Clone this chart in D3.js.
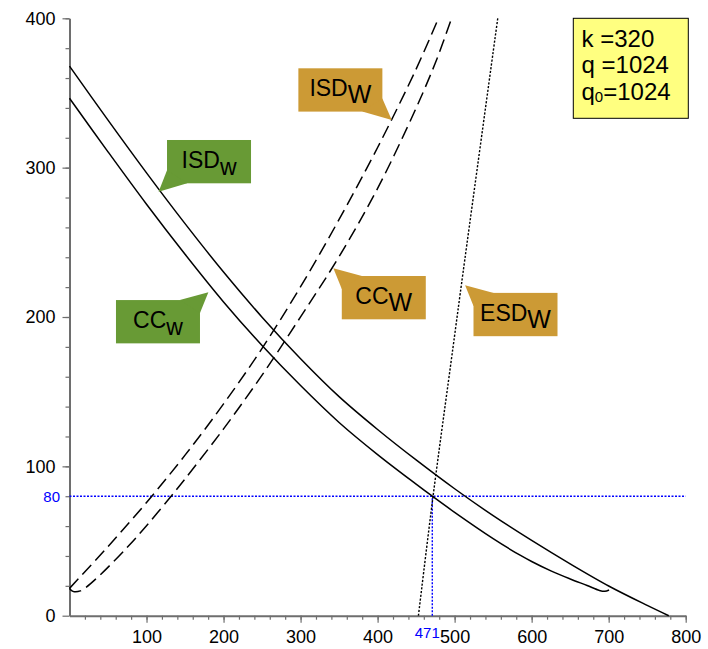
<!DOCTYPE html>
<html><head><meta charset="utf-8">
<script src="https://cdn.jsdelivr.net/npm/d3@7"></script>
<style>
body{margin:0;background:#fff;}
svg text{font-family:"Liberation Sans",Arial,sans-serif;}
</style></head>
<body><svg id="c" width="708" height="649"></svg>
<script>
// ---- data ----
const xTicks = [100,200,300,400,500,600,700,800];
const yTicks = [0,100,200,300,400];
const xMinor = d3.range(20,801,20);
const yMinor = d3.range(20,401,20);
// ISD_W (solid, upper)
const isdW = [[0,368],[50,331.8],[100,296.5],[150,262.5],[200,230.1],[250,199.9],[300,172.1],[350,146.7],[400,124.7],[450,104.3],[500,85],[550,67],[600,50.4],[650,34.7],[700,19.9],[750,6.9],[778,0]];
// CC_W (solid, lower)
const ccW = [[0,346.5],[50,310.6],[100,275.5],[150,242],[200,210.1],[250,180.9],[300,154.1],[350,129.4],[400,107.9],[450,88.1],[471,80],[500,69.2],[550,51.6],[585,40.5],[600,36.3],[625,30],[650,24.6],[672,20.2],[688,16.9],[695,16.3],[700.5,17.2]];
// ISD_W (dashed, left)
const isdWd = [[0,18.3],[50,46.3],[100,75.8],[150,107.5],[200,141.8],[250,179],[300,220.3],[350,265.3],[400,313.5],[450,366],[479,400]];
// CC_W (dashed, right)
const ccWd = [[0,18.3],[2,17.1],[4.5,16.3],[8,16],[14,16.6],[20,18.4],[40,27.4],[75,45.8],[100,60.2],[130,78.8],[150,91.6],[200,125.1],[250,161.1],[300,200.1],[350,240.4],[400,286.1],[450,339.9],[477,372.8],[496,400]];
// ESD_W (dotted)
const esdW = [[453,0],[472,80],[498,180],[511,230],[556,400]];
// equilibrium
const eqX = 471, eqY = 80;
// annotations: label, subscript, colour group, tip (data coords)
const notes = [
  {main:"ISD", sub:"w", kind:"green", tip:[115.7,283.9], side:"ru"},
  {main:"CC", sub:"w", kind:"green", tip:[180.3,216.5], side:"ld"},
  {main:"ISD", sub:"W", kind:"orange", tip:[418.4,331.9], side:"lu"},
  {main:"CC", sub:"W", kind:"orange", tip:[342.6,232.6], side:"rd"},
  {main:"ESD", sub:"W", kind:"orange", tip:[513.6,221.3], side:"rd"}
];
const params = [["k ","","=320"],["q ","","=1024"],["q","0","=1024"]];

// ---- drawing ----
const svg = d3.select("#c");
const x = d3.scaleLinear().domain([0,800]).range([69.5,685.7]);
const y = d3.scaleLinear().domain([0,400]).range([615.7,18.3]);
const axisCol = "#6e6e6e";
const FONT = "Liberation Sans, Arial, sans-serif";

// minor ticks
svg.append("g").attr("transform",`translate(0,${y(0)})`)
  .call(d3.axisBottom(x).tickValues(xMinor).tickSize(4).tickFormat(""))
  .call(g=>{g.select(".domain").remove();g.selectAll("line").attr("stroke",axisCol).attr("stroke-width",1.2);});
svg.append("g").attr("transform",`translate(${x(0)},0)`)
  .call(d3.axisLeft(y).tickValues(yMinor).tickSize(4).tickFormat(""))
  .call(g=>{g.select(".domain").remove();g.selectAll("line").attr("stroke",axisCol).attr("stroke-width",1.2);});
// major
svg.append("g").attr("transform",`translate(0,${y(0)})`)
  .call(d3.axisBottom(x).tickValues(xTicks).tickSize(7).tickSizeOuter(0).tickPadding(8).tickFormat(d3.format("d")))
  .call(g=>{g.select(".domain").attr("stroke",axisCol).attr("stroke-width",2);
    g.selectAll("line").attr("stroke",axisCol).attr("stroke-width",1.2);
    g.selectAll("text").attr("font-size",18).attr("fill","#000").attr("font-family",FONT);});
svg.append("g").attr("transform",`translate(${x(0)},0)`)
  .call(d3.axisLeft(y).tickValues(yTicks).tickSize(7).tickSizeOuter(0).tickPadding(7).tickFormat(d3.format("d")))
  .call(g=>{g.select(".domain").attr("stroke",axisCol).attr("stroke-width",2);
    g.selectAll("line").attr("stroke",axisCol).attr("stroke-width",1.2);
    g.selectAll("text").attr("font-size",18).attr("fill","#000").attr("font-family",FONT);});

// blue guide lines
svg.append("line").attr("x1",x(0)).attr("x2",x(800)).attr("y1",y(eqY)).attr("y2",y(eqY))
  .attr("stroke","#0000ff").attr("stroke-width",1.4).attr("stroke-dasharray","2,1.5");
svg.append("line").attr("x1",x(eqX)).attr("x2",x(eqX)).attr("y1",y(0)).attr("y2",y(eqY))
  .attr("stroke","#0000ff").attr("stroke-width",1.4).attr("stroke-dasharray","2,1.5");
svg.append("text").attr("x",x(0)-9.5).attr("y",y(eqY)+5.5).attr("text-anchor","end")
  .attr("font-size",15).attr("fill","#0000ff").text(eqY);
svg.append("text").attr("x",x(eqX)-5).attr("y",638).attr("text-anchor","middle")
  .attr("font-size",15).attr("fill","#0000ff").text(eqX);

// curves
const line = d3.line().x(d=>x(d[0])).y(d=>y(d[1])).curve(d3.curveCatmullRom.alpha(0.5));
function curve(data,dash,w){
  svg.append("path").datum(data).attr("d",line).attr("fill","none").attr("stroke","#000")
    .attr("stroke-width",w).attr("stroke-dasharray",dash);
}
curve(isdW,null,1.5);
curve(ccW,null,1.5);
curve(isdWd,"13,6",1.5);
curve(ccWd,"13,6",1.5);
curve(esdW,"2.2,1.6",1.4);

// callouts
const colors = {green:"#689a35", orange:"#cc9a35"};
const W = 84, H = 43.3, gap = 8.4, vgap = 7.7;
notes.forEach(n=>{
  const tx = x(n.tip[0]), ty = y(n.tip[1]);
  let bx, by, p1, p2;
  if(n.side==="ru"){ bx = tx+gap; by = ty-51.7;
    p1=[bx,by+0.7*H]; p2=[bx+0.24*W,by+H]; }
  else if(n.side==="ld"){ bx = tx-gap-W; by = ty+vgap;
    p1=[bx+0.76*W,by]; p2=[bx+W,by+0.3*H]; }
  else if(n.side==="lu"){ bx = tx-gap-1-W; by = ty-51.7;
    p1=[bx+0.76*W,by+H]; p2=[bx+W,by+0.7*H]; }
  else { bx = tx+gap; by = ty+vgap;
    p1=[bx,by+0.3*H]; p2=[bx+0.24*W,by]; }
  const g = svg.append("g");
  g.append("rect").attr("x",bx).attr("y",by).attr("width",W).attr("height",H).attr("fill",colors[n.kind]);
  g.append("path").attr("d",`M${p1}L${tx},${ty}L${p2}Z`).attr("fill",colors[n.kind]);
  const t = g.append("text").attr("x",bx+W/2).attr("y",by+28).attr("text-anchor","middle")
    .attr("font-size",23).attr("fill","#000");
  t.append("tspan").text(n.main);
  t.append("tspan").attr("dy",7).attr("font-size",n.kind==="orange"?25:23).text(n.sub);
});

// parameter box
const pb = svg.append("g");
pb.append("rect").attr("x",573.3).attr("y",18.3).attr("width",115).attr("height",100)
  .attr("fill","#ffff80").attr("stroke","#000").attr("stroke-width",1);
params.forEach((p,i)=>{
  const t = pb.append("text").attr("x",581.5).attr("y",46.5+i*26.7).attr("font-size",24).attr("fill","#000");
  t.append("tspan").text(p[0]);
  if(p[1]){ t.append("tspan").attr("font-size",15).attr("dy",2).text(p[1]);
    t.append("tspan").attr("dy",-2).text(p[2]); }
  else t.append("tspan").text(p[2]);
});
</script></body></html>
